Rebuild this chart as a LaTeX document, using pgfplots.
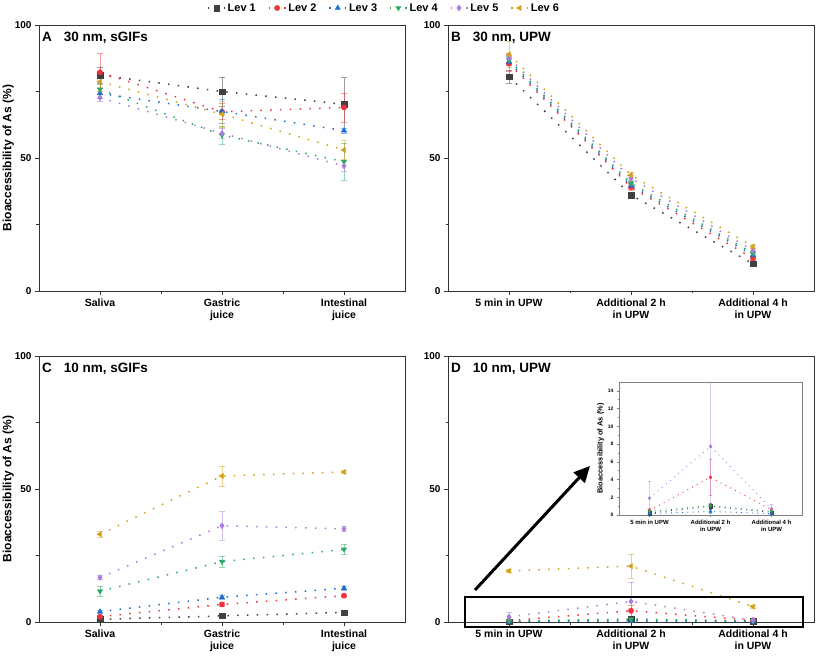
\documentclass[border=0pt]{standalone}
\usepackage{pgfplots}
\pgfplotsset{compat=1.18}
\usepackage{fontspec}
\setmainfont{Liberation Sans}
\usetikzlibrary{arrows.meta}
\definecolor{c0}{HTML}{333333}
\definecolor{c1}{HTML}{404040}
\definecolor{c2}{HTML}{F0323C}
\definecolor{c3}{HTML}{1C6DD0}
\definecolor{c4}{HTML}{2DAA62}
\definecolor{c5}{HTML}{A97BE0}
\definecolor{c6}{HTML}{D4A017}
\pgfplotsset{
  levbase/.style={line width=1.5pt, dash pattern=on 1.5pt off 8.3pt, mark size=2.7pt,
    error bars/y dir=both, error bars/y explicit,
    error bars/error bar style={solid, line width=0.6pt, opacity=0.5},
    error bars/error mark options={solid, rotate=90, mark size=3pt, line width=0.6pt, opacity=0.5}},
  lev1/.style={levbase, color=c1, mark=square*, mark options={solid, line width=0.3pt}},
  lev2/.style={levbase, color=c2, mark=*, mark options={solid, line width=0.3pt}},
  lev3/.style={levbase, color=c3, mark=triangle*, mark options={solid, line width=0.3pt, scale=1.15}},
  lev4/.style={levbase, color=c4, mark=triangle*, mark options={solid, line width=0.3pt, rotate=180, scale=1.15}},
  lev5/.style={levbase, color=c5, mark=diamond*, mark options={solid, line width=0.3pt, scale=1.1}},
  lev6/.style={levbase, color=c6, mark=triangle*, mark options={solid, line width=0.3pt, rotate=90, scale=1.15}},
  small/.style={line width=0.9pt, dash pattern=on 0.9pt off 4.5pt, mark size=1.6pt,
    error bars/error mark options={solid, rotate=90, mark size=1.8pt, line width=0.5pt, opacity=0.5},
    error bars/error bar style={solid, line width=0.5pt, opacity=0.4}},
  panel/.style={scale only axis, width=366pt, height=266pt, anchor=south west,
    xmin=-0.5, xmax=2.5, ymin=0, ymax=100,
    xtick={0,1,2}, minor xtick={0.5,1.5}, ytick={0,50,100}, minor ytick={25,75},
    tick align=outside, tick pos=left, major tick length=4pt, minor tick length=2.5pt,
    axis line style={c0, line width=0.8pt}, tick style={c0, line width=0.8pt},
    xticklabel style={align=center, font=\bfseries\fontsize{10.5}{12.5}\selectfont},
    yticklabel style={font=\bfseries\fontsize{10}{12}\selectfont},
    /pgf/number format/assume math mode=true,
    every axis y label/.style={at={(axis description cs:-0.068,0.5)}, rotate=90, anchor=south, inner sep=0pt,
      font=\bfseries\fontsize{12}{14}\selectfont},
    legend image code/.code={\draw[##1, dash pattern=on 1.5pt off 6.3pt] (0pt,0pt) -- (17pt,0pt); \draw[##1] plot coordinates {(8.5pt,0pt)};}
  },
}
\begin{document}
\begin{tikzpicture}
% Panel A
\begin{axis}[panel, at={(39pt,366pt)},
  xticklabels={Saliva,{Gastric\\juice},{Intestinal\\juice}},
  ylabel={Bioaccessibility of As (\%)},
  legend style={at={(0.943,1.064)}, anchor=center, legend columns=6, draw=none, fill=none,
    font=\bfseries\fontsize{11}{13}\selectfont,
    /tikz/every even column/.append style={column sep=10pt}}]
\addplot[lev1] coordinates {(0,81.2) +- (0,3) (1,75) +- (0,5.5) (2,70.2) +- (0,10)};
\addlegendentry{Lev 1}
\addplot[lev2] coordinates {(0,82.2) +- (0,7) (1,67.4) +- (0,3) (2,69) +- (0,5.5)};
\addlegendentry{Lev 2}
\addplot[lev3] coordinates {(0,74.3) +- (0,2) (1,67.5) +- (0,4.5) (2,60.3) +- (0,1)};
\addlegendentry{Lev 3}
\addplot[lev4] coordinates {(0,75.8) +- (0,2) (1,58.6) +- (0,3.5) (2,48.6) +- (0,7)};
\addlegendentry{Lev 4}
\addplot[lev5] coordinates {(0,72.7) +- (0,1.5) (1,59.3) +- (0,2) (2,47) +- (0,2)};
\addlegendentry{Lev 5}
\addplot[lev6] coordinates {(0,78.7) +- (0,2.5) (1,66.5) +- (0,5) (2,53) +- (0,3.5)};
\addlegendentry{Lev 6}
\node[anchor=north west, font=\bfseries\fontsize{13.5}{15}\selectfont, inner sep=0pt] at (rel axis cs:0.008,0.975) {A\hspace{12pt}30 nm, sGIFs};
\end{axis}
% Panel B
\begin{axis}[panel, at={(448pt,366pt)},
  xticklabels={5 min in UPW,{Additional 2 h\\in UPW},{Additional 4 h\\in UPW}}]
\addplot[lev1] coordinates {(0,80.6) +- (0,2.5) (1,36.1) +- (0,1) (2,10.2) +- (0,0.8)};
\addplot[lev2] coordinates {(0,85.5) +- (0,3) (1,39) +- (0,1) (2,12.3) +- (0,0.8)};
\addplot[lev3] coordinates {(0,86.2) +- (0,1.5) (1,39.6) +- (0,1) (2,13.5) +- (0,0.8)};
\addplot[lev4] coordinates {(0,86.8) +- (0,1.5) (1,40.5) +- (0,1) (2,14.2) +- (0,0.8)};
\addplot[lev5] coordinates {(0,87.6) +- (0,1.5) (1,42.4) +- (0,1) (2,15.2) +- (0,0.8)};
\addplot[lev6] coordinates {(0,89) +- (0,5) (1,43.6) +- (0,1) (2,16.7) +- (0,0.8)};
\node[anchor=north west, font=\bfseries\fontsize{13.5}{15}\selectfont, inner sep=0pt] at (rel axis cs:0.008,0.975) {B\hspace{12pt}30 nm, UPW};
\end{axis}
% Panel C
\begin{axis}[panel, at={(39pt,35pt)},
  xticklabels={Saliva,{Gastric\\juice},{Intestinal\\juice}},
  ylabel={Bioaccessibility of As (\%)}]
\addplot[lev1] coordinates {(0,1) +- (0,0.3) (1,2.3) +- (0,0.3) (2,3.6) +- (0,0.3)};
\addplot[lev2] coordinates {(0,2) +- (0,0.5) (1,6.6) +- (0,0.8) (2,9.9) +- (0,0.6)};
\addplot[lev3] coordinates {(0,3.9) +- (0,0.5) (1,9.3) +- (0,0.8) (2,12.7) +- (0,0.6)};
\addplot[lev4] coordinates {(0,11.6) +- (0,2) (1,22.7) +- (0,2) (2,27.3) +- (0,2)};
\addplot[lev5] coordinates {(0,16.7) +- (0,0.8) (1,36.2) +- (0,5.3) (2,35) +- (0,0.8)};
\addplot[lev6] coordinates {(0,33) +- (0,1) (1,54.9) +- (0,3.7) (2,56.4) +- (0,0.6)};
\node[anchor=north west, font=\bfseries\fontsize{13.5}{15}\selectfont, inner sep=0pt] at (rel axis cs:0.008,0.975) {C\hspace{12pt}10 nm, sGIFs};
\end{axis}
% Panel D
\begin{axis}[panel, at={(448pt,35pt)},
  xticklabels={5 min in UPW,{Additional 2 h\\in UPW},{Additional 4 h\\in UPW}}]
\addplot[lev1] coordinates {(0,0.2) +- (0,0.1) (1,1.0) +- (0,0.3) (2,0.3) +- (0,0.1)};
\addplot[lev2] coordinates {(0,0.5) +- (0,0.3) (1,4.25) +- (0,2) (2,0.6) +- (0,0.2)};
\addplot[lev3] coordinates {(0,0.15) +- (0,0.1) (1,0.4) +- (0,0.2) (2,0.15) +- (0,0.1)};
\addplot[lev4] coordinates {(0,0.4) +- (0,0.2) (1,1.05) +- (0,0.3) (2,0.4) +- (0,0.1)};
\addplot[lev5] coordinates {(0,1.9) +- (0,1.9) (1,7.75) +- (0,7.3) (2,0.7) +- (0,0.5)};
\addplot[lev6] coordinates {(0,19.2) +- (0,0.5) (1,21) +- (0,4.4) (2,5.8) +- (0,0.5)};
\node[anchor=north west, font=\bfseries\fontsize{13.5}{15}\selectfont, inner sep=0pt] at (rel axis cs:0.008,0.975) {D\hspace{12pt}10 nm, UPW};
\end{axis}
% Inset
\begin{axis}[scale only axis, width=183pt, height=133pt, anchor=south west, at={(619pt,142pt)},
  axis background/.style={fill=white},
  xmin=-0.5, xmax=2.5, ymin=0, ymax=15,
  xtick={0,1,2}, minor xtick={0.5,1.5}, ytick={0,2,4,6,8,10,12,14}, minor y tick num=1,
  tick align=outside, tick pos=left, major tick length=2pt, minor tick length=1.2pt,
  axis line style={gray, line width=0.5pt}, tick style={gray, line width=0.5pt},
  ticklabel style={font=\bfseries\fontsize{5}{6}\selectfont},
  xticklabel style={align=center, font=\bfseries\fontsize{6}{7}\selectfont},
  /pgf/number format/assume math mode=true,
  xticklabels={5 min in UPW,{Additional 2 h\\in UPW},{Additional 4 h\\in UPW}},
  ylabel={Bioaccessibility of As (\%)},
  ylabel style={font=\bfseries\fontsize{7.4}{8}\selectfont, yshift=-3pt}]
\addplot[lev1, small] coordinates {(0,0.2) +- (0,0.1) (1,1.0) +- (0,0.3) (2,0.3) +- (0,0.1)};
\addplot[lev2, small] coordinates {(0,0.5) +- (0,0.3) (1,4.25) +- (0,2) (2,0.6) +- (0,0.2)};
\addplot[lev3, small] coordinates {(0,0.15) +- (0,0.1) (1,0.4) +- (0,0.2) (2,0.15) +- (0,0.1)};
\addplot[lev4, small] coordinates {(0,0.4) +- (0,0.2) (1,1.05) +- (0,0.3) (2,0.4) +- (0,0.1)};
\addplot[lev5, small] coordinates {(0,1.9) +- (0,1.9) (1,7.75) +- (0,7.3) (2,0.7) +- (0,0.5)};
\end{axis}
\draw[black, line width=1.8pt] (465pt,30pt) rectangle (803pt,60pt);
\draw[black, line width=3pt, -{Triangle[length=16pt,width=15pt]}] (475pt,67pt) -- (590pt,191pt);
\pgfresetboundingbox
\path (0pt,0pt) rectangle (817pt,657pt);
\end{tikzpicture}
\end{document}
